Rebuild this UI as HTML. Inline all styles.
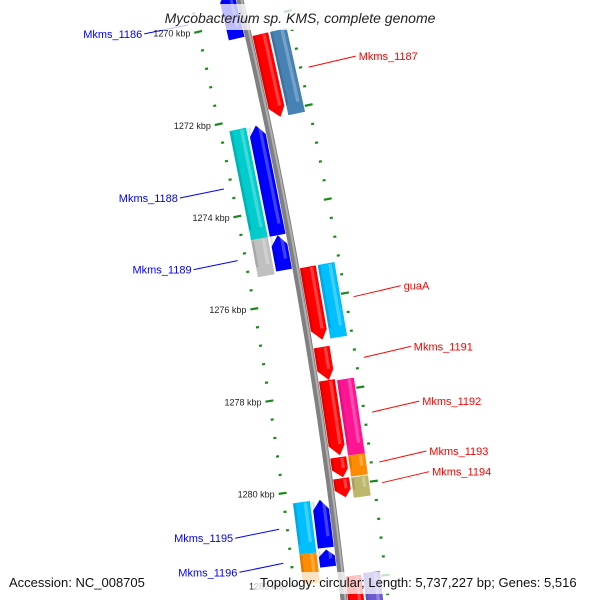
<!DOCTYPE html>
<html><head><meta charset="utf-8"><style>
html,body{margin:0;padding:0;background:#fff;width:600px;height:600px;overflow:hidden;}
svg{display:block;overflow:hidden;font-family:"Liberation Sans","DejaVu Sans",sans-serif;}
</style></head><body>
<svg id="map" width="600" height="600" viewBox="0 0 600 600" xmlns="http://www.w3.org/2000/svg">
<g id="ticks"></g>
<g id="axis"></g>
<g id="genes"></g>
<g id="labels"></g>
<rect x="150" y="4" width="300" height="26" fill="#fff" fill-opacity="0.75"/>
<text x="300" y="23" text-anchor="middle" font-size="14" font-style="italic" fill="#222">Mycobacterium sp. KMS, complete genome</text>
<rect x="4" y="572" width="146" height="22" fill="#fff" fill-opacity="0.75"/>
<rect x="255" y="572" width="341" height="22" fill="#fff" fill-opacity="0.75"/>
<text x="9" y="587" font-size="13" fill="#111">Accession: NC_008705</text>
<text x="260" y="587" font-size="13" fill="#111">Topology: circular; Length: 5,737,227 bp; Genes: 5,516</text>
</svg>
<script>
// ---- data ----
const geneNames  = ["Mkms_1186","Mkms_1187","Mkms_1187b","Mkms_1188","Mkms_1188b","Mkms_1189","Mkms_1189b","guaA","guaAb","Mkms_1191","Mkms_1192","Mkms_1192b","Mkms_1193","Mkms_1193b","Mkms_1194","Mkms_1194b","Mkms_1195","Mkms_1195b","Mkms_1196","Mkms_1196b","Mkms_1197","Mkms_1197b"];
const geneStart  = [1269.3,1270.34,1270.34,1272.19,1272.19,1274.55,1274.55,1275.32,1275.32,1277.04,1277.75,1277.78,1279.40,1279.39,1279.85,1279.86,1280.24,1280.24,1281.31,1281.35,1281.93,1281.90];
const geneEnd    = [1270.32,1272.12,1272.12,1274.55,1274.55,1275.30,1275.35,1276.89,1276.89,1277.75,1279.36,1279.39,1279.83,1279.84,1280.26,1280.29,1281.27,1281.35,1281.68,1282.0,1283.0,1283.0];
const geneTrack  = ["inL","inR","outR","inL","outL","inL","outL","inR","outR","inR","inR","outR","inR","outR","inR","outR","inL","outL","inL","outL","inR","outR"];
const geneColor  = ["#0000ff","#ff0000","#4682b4","#0000ff","#00cccc","#0000ff","#c0c0c0","#ff0000","#00bfff","#ff0000","#ff0000","#ff1493","#ff0000","#ff8c00","#ff0000","#bdb76b","#0000ff","#00bfff","#0000ff","#ff8c00","#ff0000","#6a5acd"];
const labelNames = ["Mkms_1186","Mkms_1187","Mkms_1188","Mkms_1189","guaA","Mkms_1191","Mkms_1192","Mkms_1193","Mkms_1194","Mkms_1195","Mkms_1196"];
const labelGene  = [0,1,3,5,7,9,10,12,14,16,18];
const tickStart = 1268, tickEnd = 1284, tickStep = 0.4, majorStep = 2;

// ---- geometry ----
const NS="http://www.w3.org/2000/svg";
const A=0.2367,B=-1.057e-4;
function tOf(k){return 21+(k-1270)*46.6;}
function P(t,o){const s=A+2*B*t, n=Math.sqrt(1+s*s);return [240+A*t+B*t*t+o/n, t-o*s/n];}
const tracks={inR:[4,20],outR:[22,39],inL:[-20,-4],outL:[-39,-22]};
function mk(tag,attrs,parent){const e=document.createElementNS(NS,tag);for(const k in attrs)e.setAttribute(k,attrs[k]);parent.appendChild(e);return e;}
function pts(a){return a.map(p=>p[0].toFixed(1)+","+p[1].toFixed(1)).join(" ");}

// backbone
const axisG=document.getElementById('axis');
let d="";for(let t=-20;t<=610;t+=10){const p=P(t,0);d+=(t===-20?"M":"L")+p[0].toFixed(1)+" "+p[1].toFixed(1);}
const ax1=mk('path',{d:d,stroke:"#808080","stroke-width":7,fill:"none"},axisG);


d="";for(let t=-20;t<=610;t+=10){const p=P(t,1.5);d+=(t===-20?"M":"L")+p[0].toFixed(1)+" "+p[1].toFixed(1);}
const ax2=mk('path',{d:d,stroke:"#b0b0b0","stroke-width":2,fill:"none"},axisG);



// ticks
const tg=document.getElementById('ticks');
for(let k=tickStart;k<=tickEnd+1e-6;k+=tickStep){
  const kk=Math.round(k*10)/10, t=tOf(kk), major=Math.abs(kk/majorStep-Math.round(kk/majorStep))<1e-6;
  [-48,44].forEach(o=>{
    const h=major?4:1.5;const a=P(t,o-h),b=P(t,o+h);
    const ln=mk('line',{x1:a[0],y1:a[1],x2:b[0],y2:b[1],stroke:"#1a8a1a","stroke-width":2.2},tg);
    
    
  });
  if(major){const p=P(t,-56);
    const tx=mk('text',{x:p[0].toFixed(1),y:(p[1]+3).toFixed(1),"text-anchor":"end","font-size":9,fill:"#222"},tg);
    tx.textContent=kk+" kbp";
    
    }
}

// genes
const gg=document.getElementById('genes');
for(let i=0;i<geneNames.length;i++){
  const tr=tracks[geneTrack[i]],o1=tr[0],o2=tr[1],t1=tOf(geneStart[i]),t2=tOf(geneEnd[i]),om=(o1+o2)/2;
  let poly;
  const tip=Math.min(10,(t2-t1)*0.4);
  if(geneTrack[i]==="inR"){poly=[P(t1,o1),P(t1,o2),P(t2-tip,o2),P(t2,om+2),P(t2-tip,o1)];}
  else if(geneTrack[i]==="inL"){poly=[P(t1+tip,o1),P(t1,om),P(t1+tip,o2),P(t2,o2),P(t2,o1)];}
  else {poly=[P(t1,o1),P(t1,o2),P(t2,o2),P(t2,o1)];}
  const g=mk('g',{},gg);
  
  
  mk('polygon',{points:pts(poly),fill:geneColor[i]},g);
  const w=o2-o1;
  const s1=[P(t1+1,o1+w*0.62),P(t1+1,o1+w*0.82),P(t2-tip-1,o1+w*0.82),P(t2-tip-1,o1+w*0.62)];
  mk('polygon',{points:pts(s1),fill:"#fff","fill-opacity":0.25},g);
  const s2=[P(t1+1,o1),P(t1+1,o1+w*0.15),P(t2-tip,o1+w*0.15),P(t2-tip,o1)];
  mk('polygon',{points:pts(s2),fill:"#000","fill-opacity":0.12},g);
}

// labels
const lg=document.getElementById('labels');
for(let j=0;j<labelNames.length;j++){
  const i=labelGene[j],tm=(tOf(geneStart[i])+tOf(geneEnd[i]))/2,left=geneTrack[i].endsWith("L");
  const col=left?"#0000ff":"#ff0000";
  const e=P(tm,left?-56:52);
  const sx=left?e[0]-44:e[0]+47, sy=left?e[1]+9:e[1]-11;
  const ln=mk('line',{x1:e[0].toFixed(1),y1:e[1].toFixed(1),x2:sx.toFixed(1),y2:sy.toFixed(1),stroke:col,"stroke-width":1},lg);
  
  
  const tx=mk('text',{x:(left?sx-2:sx+3).toFixed(1),y:(sy+4).toFixed(1),"text-anchor":left?"end":"start","font-size":11,fill:col},lg);
  tx.textContent=labelNames[j];
  
  
}
</script>
</body></html>
